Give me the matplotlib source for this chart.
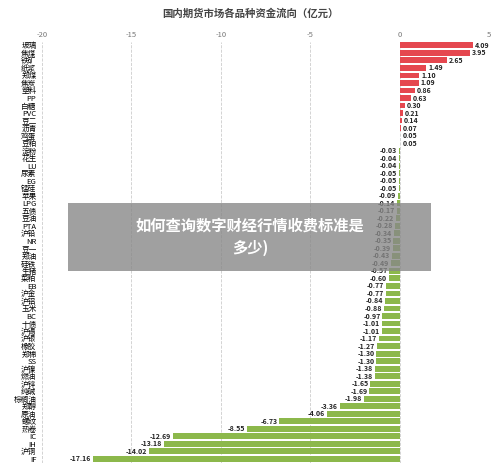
import matplotlib
matplotlib.use("Agg")
import matplotlib.pyplot as plt
from matplotlib.patches import Rectangle

plt.rcParams['font.family'] = ['Noto Sans CJK SC', 'DejaVu Sans']

categories = ["玻璃","焦煤","铁矿","纸浆","郑煤","焦炭","塑料","PP","白糖","PVC","豆二","沥青","鸡蛋","豆粕",
              "淀粉","花生","LU","尿素","EG","锰硅","苹果","LPG","五债","豆油","PTA","沪铅","NR","豆一","郑油",
              "硅铁","生猪","菜粕","EB","沪金","沪铝","玉米","BC","十债","沪锡","沪银","橡胶","郑棉","SS","沪镍",
              "燃油","沪锌","纯碱","棕榈油","郑醇","原油","螺纹","热卷","IC","IH","沪铜","IF"]
values = [4.09,3.95,2.65,1.49,1.10,1.09,0.86,0.63,0.30,0.21,0.14,0.07,0.05,0.05,
          -0.03,-0.04,-0.04,-0.05,-0.05,-0.05,-0.09,-0.14,-0.17,-0.22,-0.28,-0.34,-0.35,-0.39,-0.43,
          -0.49,-0.57,-0.60,-0.77,-0.77,-0.84,-0.88,-0.97,-1.01,-1.01,-1.17,-1.27,-1.30,-1.30,-1.38,
          -1.38,-1.65,-1.69,-1.98,-3.36,-4.06,-6.73,-8.55,-12.69,-13.18,-14.02,-17.16]
xticks = [-20, -15, -10, -5, 0, 5]

fig = plt.figure(figsize=(5.0, 4.73), dpi=100)
ax = fig.add_axes([0.084, 0.022, 0.894, 0.89])
n = len(categories)
y = list(range(n))
colors = ['#e5474f' if v > 0 else '#8cb84b' for v in values]
ax.barh(y, values, height=0.78, color=colors)
for yi, v in zip(y, values):
    ax.text(v + (0.1 if v > 0 else -0.1), yi, f"{v:.2f}", ha='left' if v > 0 else 'right',
            va='center', fontsize=5, fontweight='bold', color='#222222')
ax.set_ylim(n - 0.5, -0.5)
ax.set_xlim(-20, 5)
ax.set_xticks(xticks)
ax.set_xticklabels([str(t) for t in xticks])
ax.xaxis.tick_top()
ax.tick_params(axis='x', length=0, labelsize=5.5, colors='#777777', pad=2)
ax.set_yticks(y)
ax.set_yticklabels(categories)
ax.tick_params(axis='y', length=0, labelsize=5.5, pad=4)
ax.grid(axis='x', linestyle='--', color='#cccccc', linewidth=0.6)
ax.set_axisbelow(True)
for s in ax.spines.values():
    s.set_visible(False)
fig.text(0.5, 0.972, "国内期货市场各品种资金流向（亿元）", ha='center', va='center', fontsize=7.5,
         fontweight='bold', color='#444444')
fig.patches.append(Rectangle((0.136, 0.428), 0.726, 0.142, transform=fig.transFigure,
                             facecolor='#888888', alpha=0.8, zorder=10))
fig.text(0.5, 0.499, "如何查询数字财经行情收费标准是\n多少)", ha='center', va='center', fontsize=11,
         fontweight='bold', color='white', zorder=11, linespacing=1.5)
fig.savefig("out.png", dpi=100, facecolor='white')
